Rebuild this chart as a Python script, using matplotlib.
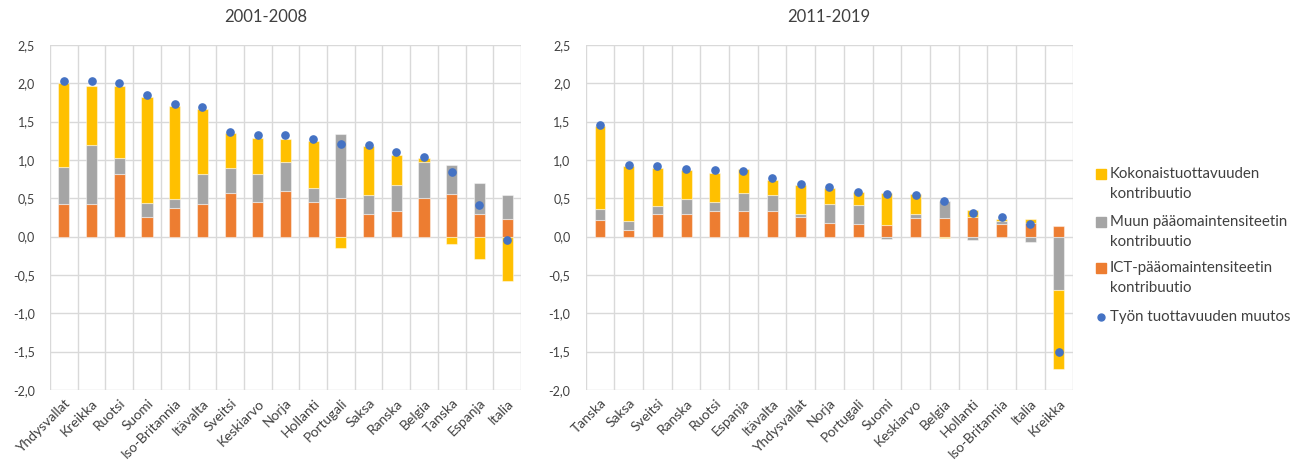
import matplotlib.pyplot as plt
import numpy as np
from matplotlib.patches import Rectangle
from matplotlib.lines import Line2D

plt.rcParams['font.family'] = ['Lato', 'DejaVu Sans']

# 2001-2008
maat1 = ["Yhdysvallat", "Kreikka", "Ruotsi", "Suomi", "Iso-Britannia", "Itävalta",
         "Sveitsi", "Keskiarvo", "Norja", "Hollanti", "Portugali", "Saksa", "Ranska",
         "Belgia", "Tanska", "Espanja", "Italia"]
ict1 = [0.43, 0.43, 0.82, 0.25, 0.38, 0.43, 0.57, 0.45, 0.59, 0.45, 0.50, 0.30, 0.33, 0.50, 0.55, 0.29, 0.23]
muu1 = [0.48, 0.76, 0.21, 0.19, 0.11, 0.39, 0.33, 0.37, 0.38, 0.18, 0.84, 0.24, 0.35, 0.47, 0.38, 0.41, 0.31]
kok1 = [1.09, 0.77, 0.93, 1.38, 1.22, 0.85, 0.45, 0.47, 0.30, 0.62, -0.15, 0.64, 0.39, 0.05, -0.10, -0.29, -0.58]
tyo1 = [2.03, 2.03, 2.01, 1.85, 1.73, 1.69, 1.37, 1.32, 1.32, 1.28, 1.21, 1.20, 1.11, 1.04, 0.84, 0.41, -0.04]

# 2011-2019
maat2 = ["Tanska", "Saksa", "Sveitsi", "Ranska", "Ruotsi", "Espanja", "Itävalta",
         "Yhdysvallat", "Norja", "Portugali", "Suomi", "Keskiarvo", "Belgia", "Hollanti",
         "Iso-Britannia", "Italia", "Kreikka"]
ict2 = [0.22, 0.09, 0.30, 0.30, 0.33, 0.33, 0.34, 0.25, 0.18, 0.16, 0.15, 0.24, 0.24, 0.25, 0.16, 0.18, 0.14]
muu2 = [0.14, 0.11, 0.10, 0.19, 0.12, 0.24, 0.20, 0.04, 0.25, 0.25, -0.03, 0.06, 0.23, -0.05, 0.04, -0.07, -0.70]
kok2 = [1.08, 0.72, 0.50, 0.38, 0.38, 0.31, 0.20, 0.39, 0.20, 0.17, 0.42, 0.25, -0.02, 0.10, 0.03, 0.05, -1.02]
tyo2 = [1.45, 0.94, 0.92, 0.88, 0.87, 0.85, 0.76, 0.69, 0.65, 0.58, 0.56, 0.54, 0.47, 0.31, 0.26, 0.17, -1.51]

nimet = ["Kokonaistuottavuuden\nkontribuutio", "Muun pääomaintensiteetin\nkontribuutio",
         "ICT-pääomaintensiteetin\nkontribuutio", "Työn tuottavuuden muutos"]

c_ict = '#ED7D31'
c_muu = '#A5A5A5'
c_kok = '#FFC000'
c_dot = '#4472C4'
txt = '#404040'
grid_c = '#D9D9D9'


def draw(ax, maat, ict, muu, kok, tyo, width):
    x = np.arange(len(maat))
    pos = np.zeros(len(maat))
    neg = np.zeros(len(maat))
    for vals, col in [(ict, c_ict), (muu, c_muu), (kok, c_kok)]:
        v = np.array(vals)
        bottom = np.where(v >= 0, pos, neg)
        ax.bar(x, v, width, bottom=bottom, color=col, edgecolor=(1, 1, 1, 0.45),
               linewidth=0.8, zorder=2)
        pos = pos + np.where(v >= 0, v, 0)
        neg = neg + np.where(v < 0, v, 0)
    ax.plot(x, tyo, 'o', color=c_dot, markersize=5.2, zorder=3)
    ax.set_xlim(-0.5, len(maat) - 0.5)
    ax.set_ylim(-2.0, 2.5)
    yt = np.arange(-2.0, 2.51, 0.5)
    ax.set_yticks(yt)
    ax.set_yticklabels([f"{v:.1f}".replace(".", ",") for v in yt], fontsize=9, color=txt)
    ax.set_xticks(x)
    ax.set_xticklabels(maat, rotation=45, ha='right', rotation_mode='anchor',
                       fontsize=10, color=txt)
    ax.set_xticks(np.arange(-0.5, len(maat)), minor=True)
    ax.tick_params(axis='both', which='both', length=0)
    ax.tick_params(axis='y', pad=11)
    ax.tick_params(axis='x', pad=5)
    ax.grid(True, axis='y', color=grid_c, linewidth=1.0, zorder=0)
    ax.grid(True, axis='x', which='minor', color=grid_c, linewidth=1.0, zorder=0)
    ax.set_axisbelow(True)
    for s in ax.spines.values():
        s.set_visible(False)


fig = plt.figure(figsize=(13.03, 4.73), dpi=100)
ax1 = fig.add_axes([0.0384, 0.1755, 0.3614, 0.7294])
ax2 = fig.add_axes([0.4495, 0.1755, 0.3742, 0.7294])
draw(ax1, maat1, ict1, muu1, kok1, tyo1, 0.4)
draw(ax2, maat2, ict2, muu2, kok2, tyo2, 0.38)

fig.text(266 / 1303, 1 - 17 / 473, "2001-2008", ha='center', va='center', fontsize=12, color=txt)
fig.text(829 / 1303, 1 - 17 / 473, "2011-2019", ha='center', va='center', fontsize=12, color=txt)

# legend, drawn by hand so the keys sit on the first line of each label
lx = 1096 / 1303
tx = 1110 / 1303
rows = [174, 222, 268, 317]
for nimi, col, yy in zip(nimet[:3], [c_kok, c_muu, c_ict], rows[:3]):
    fig.add_artist(Rectangle((lx, 1 - (yy + 5) / 473), 10 / 1303, 10 / 473,
                             color=col, transform=fig.transFigure))
    fig.text(tx, 1 - (yy - 7) / 473, nimi, ha='left', va='top', fontsize=10.8,
             color=txt, linespacing=1.55)
fig.add_artist(Line2D([lx + 5 / 1303], [1 - rows[3] / 473], marker='o', color=c_dot,
                      markersize=5, linestyle='none', transform=fig.transFigure))
fig.text(tx, 1 - rows[3] / 473, nimet[3], ha='left', va='center', fontsize=10.8, color=txt)

fig.savefig('out.png', dpi=100)
